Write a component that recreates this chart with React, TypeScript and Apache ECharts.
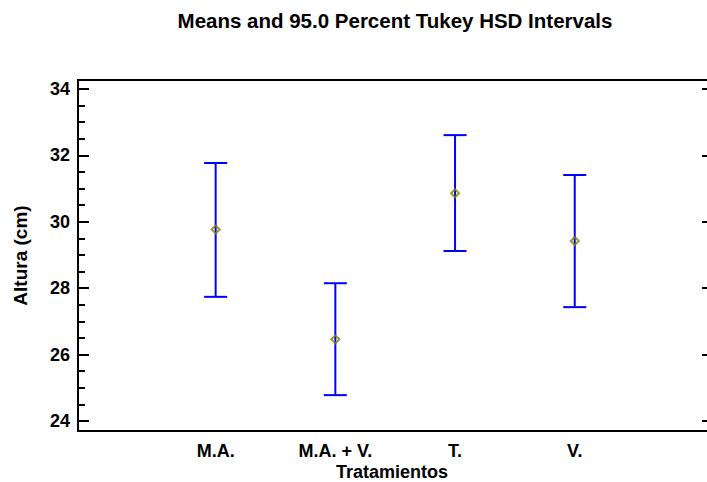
import React, { useEffect, useRef } from "react";
import * as echarts from "echarts";

const categories = ["M.A.", "M.A. + V.", "T.", "V."];
const means = [29.77, 26.46, 30.86, 29.42];
const lowerLimits = [27.74, 24.78, 29.12, 27.43];
const upperLimits = [31.77, 28.15, 32.61, 31.41];
const yTicks = [24, 26, 28, 30, 32, 34];
const yMinorTicks = [24.5, 25, 25.5, 26.5, 27, 27.5, 28.5, 29, 29.5, 30.5, 31, 31.5, 32.5, 33, 33.5];
const xAxisTitle = "Tratamientos";

const FONT = "'Liberation Sans', Arial, sans-serif";

export default function App() {
  const ref = useRef<HTMLDivElement>(null);
  useEffect(() => {
    if (!ref.current) return;
    const chart = echarts.init(ref.current, undefined, { renderer: "svg" });
    const xPos = categories.map((_, i) => i + 1);
    const yMin = 23.7;
    const yMax = 34.27;
    const xMin = -0.15;
    const xMax = 5.13;
    const option: any = {
      animation: false,
      backgroundColor: "#ffffff",
      title: {
        text: "Means and 95.0 Percent Tukey HSD Intervals",
        left: 390,
        textAlign: "center",
        top: 5,
        textStyle: { fontFamily: FONT, fontSize: 20.5, fontWeight: "bold", color: "#000" },
      },
      graphic: [
        {
          type: "text",
          x: 392,
          y: 472,
          style: {
            text: xAxisTitle,
            fill: "#000",
            font: `bold 18px ${FONT}`,
            textAlign: "center",
            textVerticalAlign: "middle",
          },
        },
      ],
      grid: {
        left: 78,
        top: 80,
        right: -3,
        bottom: 51,
        containLabel: false,
        outerBoundsMode: "none",
        show: true,
        borderColor: "#000",
        borderWidth: 2,
        backgroundColor: "transparent",
      },
      xAxis: [
        {
          type: "value",
          min: xMin,
          max: xMax,
          position: "bottom",
          axisLine: { show: false, onZero: false },
          axisTick: { show: false },
          splitLine: { show: false },
          axisLabel: {
            customValues: xPos,
            formatter: (v: number) => categories[Math.round(v) - 1] ?? "",
            fontFamily: FONT,
            fontSize: 18,
            fontWeight: "bold",
            color: "#000",
            margin: 11,
          },
        },
      ],
      yAxis: [
        {
          type: "value",
          min: yMin,
          max: yMax,
          position: "left",
          name: "Altura (cm)",
          nameLocation: "middle",
          nameRotate: 90,
          nameGap: 48,
          nameTextStyle: { fontFamily: FONT, fontSize: 19, fontWeight: "bold", color: "#000" },
          axisLine: { show: true, onZero: false, lineStyle: { color: "#000", width: 2 } },
          axisTick: {
            show: true,
            inside: true,
            length: 11,
            customValues: yTicks,
            lineStyle: { color: "#000", width: 2 },
          },
          axisLabel: {
            customValues: yTicks,
            fontFamily: FONT,
            fontSize: 18,
            fontWeight: "bold",
            color: "#000",
            margin: 8,
          },
          splitLine: { show: false },
        },
        {
          type: "value",
          min: yMin,
          max: yMax,
          position: "left",
          offset: 0,
          axisLine: { show: false, onZero: false },
          axisTick: {
            show: true,
            inside: true,
            length: 7,
            customValues: yMinorTicks,
            lineStyle: { color: "#000", width: 2 },
          },
          axisLabel: { show: false },
          splitLine: { show: false },
        },
        {
          type: "value",
          min: yMin,
          max: yMax,
          position: "right",
          offset: 0,
          axisLine: { show: false, onZero: false },
          axisTick: {
            show: true,
            inside: true,
            length: 8,
            customValues: yTicks,
            lineStyle: { color: "#000", width: 2 },
          },
          axisLabel: { show: false },
          splitLine: { show: false },
        },
      ],
      series: [
        {
          type: "custom",
          xAxisIndex: 0,
          yAxisIndex: 0,
          data: xPos.map((x, i) => [x, lowerLimits[i], upperLimits[i]]),
          renderItem: (params: any, api: any) => {
            const x = api.value(0);
            const lo = api.coord([x, api.value(1)]);
            const hi = api.coord([x, api.value(2)]);
            const hw = 11.5;
            const style = { stroke: "#0000ff", lineWidth: 2 };
            return {
              type: "group",
              children: [
                { type: "line", shape: { x1: lo[0], y1: lo[1], x2: hi[0], y2: hi[1] }, style },
                { type: "line", shape: { x1: lo[0] - hw, y1: lo[1], x2: lo[0] + hw, y2: lo[1] }, style },
                { type: "line", shape: { x1: hi[0] - hw, y1: hi[1], x2: hi[0] + hw, y2: hi[1] }, style },
              ],
            };
          },
          z: 2,
        },
        {
          type: "scatter",
          xAxisIndex: 0,
          yAxisIndex: 0,
          data: xPos.map((x, i) => [x, means[i]]),
          symbol: "diamond",
          symbolSize: [8, 8],
          itemStyle: { color: "rgba(255,255,255,0)", borderColor: "#808000", borderWidth: 2 },
          z: 3,
        },
      ],
    };
    chart.setOption(option);
    return () => chart.dispose();
  }, []);
  return <div ref={ref} style={{ width: 707, height: 482, position: "absolute", left: 0, top: 0 }} />;
}
